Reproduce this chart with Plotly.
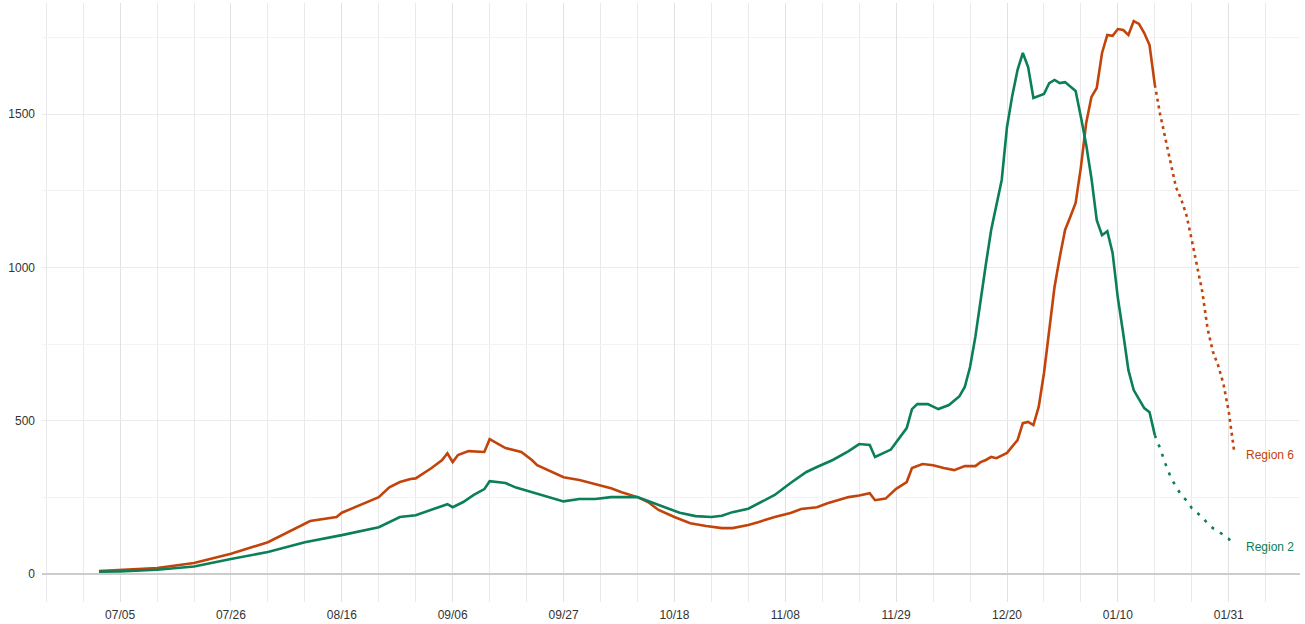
import plotly.graph_objects as go

# ---------------- data ----------------
r6_dates = ["2021-07-01","2021-07-05","2021-07-12","2021-07-19","2021-07-26","2021-08-02","2021-08-09","2021-08-10",
            "2021-08-15","2021-08-16","2021-08-23","2021-08-25","2021-08-27","2021-08-29","2021-08-30","2021-09-02",
            "2021-09-04","2021-09-05","2021-09-06","2021-09-07","2021-09-09","2021-09-12","2021-09-13","2021-09-16",
            "2021-09-19","2021-09-21","2021-09-22","2021-09-24","2021-09-27","2021-09-30","2021-10-03","2021-10-06",
            "2021-10-08","2021-10-11","2021-10-13","2021-10-15","2021-10-18","2021-10-21","2021-10-24","2021-10-27",
            "2021-10-29","2021-11-01","2021-11-03","2021-11-06","2021-11-09","2021-11-11","2021-11-14","2021-11-16",
            "2021-11-20","2021-11-22","2021-11-24","2021-11-25","2021-11-27","2021-11-29","2021-12-01","2021-12-02",
            "2021-12-04","2021-12-06","2021-12-08","2021-12-10","2021-12-12","2021-12-14","2021-12-15","2021-12-16",
            "2021-12-17","2021-12-18","2021-12-20","2021-12-22","2021-12-23","2021-12-24","2021-12-25","2021-12-26",
            "2021-12-27","2021-12-28","2021-12-29","2021-12-30","2021-12-31","2022-01-01","2022-01-02","2022-01-03",
            "2022-01-04","2022-01-05","2022-01-06","2022-01-07","2022-01-08","2022-01-09","2022-01-10","2022-01-11",
            "2022-01-12","2022-01-13","2022-01-14","2022-01-15","2022-01-16","2022-01-17"]
r6_values = [10, 13, 20, 36, 66, 104, 166, 173,
             186, 200, 251, 283, 300, 310, 312, 346,
             372, 394, 365, 388, 401, 398, 440, 411,
             398, 372, 355, 339, 316, 307, 293, 280,
             267, 251, 235, 209, 186, 166, 157, 150,
             150, 160, 170, 186, 199, 212, 218, 231,
             251, 256, 264, 241, 246, 278, 300, 346,
             359, 355, 346, 339, 352, 352, 365, 372,
             382, 378, 395, 437, 492, 496, 486, 545,
             655, 796, 936, 1034, 1122, 1165, 1210, 1327,
             1471, 1556, 1585, 1699, 1758, 1755, 1777, 1774,
             1758, 1803, 1794, 1764, 1725, 1595]

r6_proj_dates = ["2022-01-17","2022-01-18","2022-01-19","2022-01-20","2022-01-21","2022-01-22","2022-01-23","2022-01-24",
                 "2022-01-25","2022-01-26","2022-01-27","2022-01-28","2022-01-29","2022-01-30","2022-01-31","2022-02-01"]
r6_proj_values = [1595, 1500, 1420, 1340, 1262, 1222, 1170, 1089,
                  1000, 920, 800, 725, 680, 620, 530, 404]

r2_dates = ["2021-07-01","2021-07-05","2021-07-12","2021-07-19","2021-07-26","2021-08-02","2021-08-09","2021-08-16",
            "2021-08-23","2021-08-27","2021-08-30","2021-09-02","2021-09-05","2021-09-06","2021-09-08","2021-09-10",
            "2021-09-12","2021-09-13","2021-09-16","2021-09-18","2021-09-21","2021-09-24","2021-09-27","2021-09-30",
            "2021-10-03","2021-10-06","2021-10-11","2021-10-13","2021-10-16","2021-10-19","2021-10-22","2021-10-25",
            "2021-10-27","2021-10-29","2021-11-01","2021-11-03","2021-11-06","2021-11-09","2021-11-12","2021-11-14",
            "2021-11-17","2021-11-20","2021-11-22","2021-11-24","2021-11-25","2021-11-28","2021-11-30","2021-12-01",
            "2021-12-02","2021-12-03","2021-12-05","2021-12-07","2021-12-09","2021-12-11","2021-12-12","2021-12-13",
            "2021-12-14","2021-12-15","2021-12-16","2021-12-17","2021-12-18","2021-12-19","2021-12-20","2021-12-21",
            "2021-12-22","2021-12-23","2021-12-24","2021-12-25","2021-12-27","2021-12-28","2021-12-29","2021-12-30",
            "2021-12-31","2022-01-02","2022-01-03","2022-01-04","2022-01-05","2022-01-06","2022-01-07","2022-01-08",
            "2022-01-09","2022-01-10","2022-01-11","2022-01-12","2022-01-13","2022-01-15","2022-01-16","2022-01-17"]
r2_values = [8, 9, 14, 25, 49, 72, 104, 127,
             153, 186, 192, 209, 228, 218, 235, 258,
             277, 303, 297, 282, 267, 251, 237, 245,
             245, 251, 251, 238, 218, 200, 189, 186,
             190, 202, 213, 231, 258, 297, 333, 349,
             372, 401, 424, 421, 382, 406, 453, 476,
             538, 554, 554, 538, 551, 580, 610, 675,
             773, 897, 1010, 1122, 1200, 1285, 1458, 1560,
             1644, 1699, 1653, 1552, 1565, 1601, 1611, 1601,
             1604, 1575, 1490, 1400, 1290, 1154, 1105, 1118,
             1047, 900, 786, 665, 600, 541, 528, 453]

r2_proj_dates = ["2022-01-17","2022-01-18","2022-01-19","2022-01-20","2022-01-21","2022-01-22","2022-01-23","2022-01-24",
                 "2022-01-25","2022-01-26","2022-01-27","2022-01-28","2022-01-29","2022-01-30","2022-01-31","2022-02-01"]
r2_proj_values = [453, 410, 360, 316, 285, 258, 240, 215,
                  200, 185, 165, 150, 140, 127, 115, 91]

tick_dates = ["2021-07-05","2021-07-26","2021-08-16","2021-09-06","2021-09-27","2021-10-18",
              "2021-11-08","2021-11-29","2021-12-20","2022-01-10","2022-01-31"]
tick_labels = ["07/05","07/26","08/16","09/06","09/27","10/18","11/08","11/29","12/20","01/10","01/31"]
y_ticks = [0, 500, 1000, 1500]
series_names = ["Region 6", "Region 2"]

# ---------------- styling ----------------
ORANGE = "#c2440b"
GREEN = "#0b7e5a"
FONT = "Liberation Sans, Arial, sans-serif"

fig = go.Figure()
fig.add_trace(go.Scatter(x=r6_dates, y=r6_values, mode="lines", name=series_names[0],
                         line=dict(color=ORANGE, width=2.6), showlegend=False))
fig.add_trace(go.Scatter(x=r6_proj_dates, y=r6_proj_values, mode="lines", name=series_names[0] + " projection",
                         line=dict(color=ORANGE, width=2.6, dash="3px,4px"), showlegend=False))
fig.add_trace(go.Scatter(x=r2_dates, y=r2_values, mode="lines", name=series_names[1],
                         line=dict(color=GREEN, width=2.6), showlegend=False))
fig.add_trace(go.Scatter(x=r2_proj_dates, y=r2_proj_values, mode="lines", name=series_names[1] + " projection",
                         line=dict(color=GREEN, width=2.6, dash="3px,7px"), showlegend=False))

fig.add_annotation(x=r6_proj_dates[-1], y=r6_proj_values[-1], text=series_names[0], showarrow=False,
                   xanchor="left", yanchor="middle", xshift=10, yshift=-5,
                   font=dict(family=FONT, size=12, color=ORANGE))
fig.add_annotation(x=r2_proj_dates[-1], y=r2_proj_values[-1], text=series_names[1], showarrow=False,
                   xanchor="left", yanchor="middle", xshift=10, yshift=-1,
                   font=dict(family=FONT, size=12, color=GREEN))

fig.update_layout(
    width=1305, height=624,
    margin=dict(l=42, r=5, t=3, b=22),
    plot_bgcolor="white", paper_bgcolor="white",
    font=dict(family=FONT, size=12, color="#333333"),
    xaxis=dict(
        type="date",
        range=["2021-06-20 05:00", "2022-02-13 12:00"],
        tickmode="array", tickvals=tick_dates, ticktext=tick_labels,
        showgrid=True, gridcolor="#e2e2e2", gridwidth=1,
        minor=dict(tickmode="linear", tick0="2021-06-21", dtick=7 * 86400000,
                   showgrid=True, gridcolor="#eaeaea", gridwidth=1),
        zeroline=False, showline=False, ticks="",
        tickfont=dict(family=FONT, size=12, color="#333333"),
        ticklabelstandoff=4,
    ),
    yaxis=dict(
        range=[-91, 1862],
        tickmode="array", tickvals=y_ticks,
        showgrid=True, gridcolor="#ebebeb", gridwidth=1,
        minor=dict(tickmode="linear", tick0=0, dtick=250, showgrid=True, gridcolor="#f3f3f3", gridwidth=1),
        zeroline=True, zerolinecolor="#cccccc", zerolinewidth=1.6,
        showline=False, ticks="",
        tickfont=dict(family=FONT, size=12, color="#333333"),
        ticklabelstandoff=6,
    ),
)

fig.write_html("out.html",
               config={"displayModeBar": False},
               post_script="document.body.style.margin='0';document.body.style.padding='0';"
                           "document.body.style.overflow='hidden';")
